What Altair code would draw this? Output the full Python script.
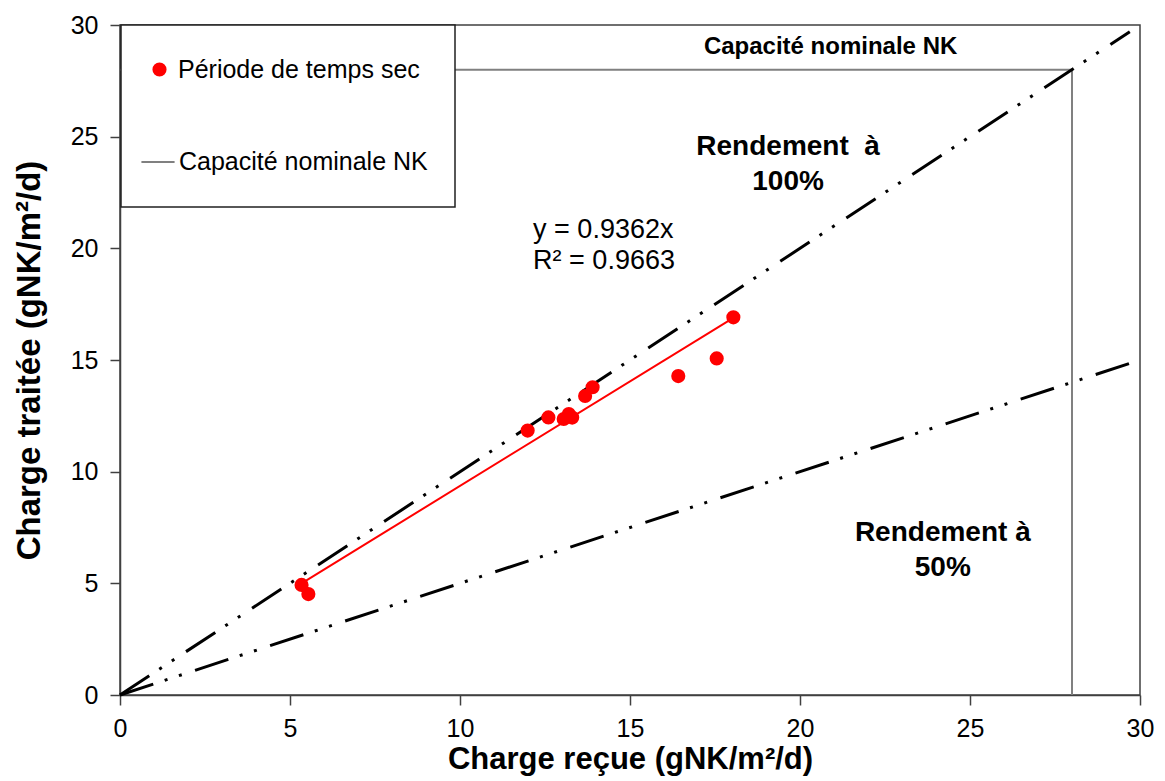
import altair as alt
import pandas as pd

# Measured loads (gNK/m²/d), dry-weather period
charge_recue = [5.34, 5.54, 11.99, 12.60, 13.05, 13.20, 13.30, 13.68, 13.90, 16.42, 17.55, 18.04]
charge_traitee = [4.93, 4.52, 11.84, 12.43, 12.36, 12.58, 12.42, 13.39, 13.78, 14.28, 15.07, 16.91]

# Fit through the origin
pente = 0.9362
r2 = 0.9663

# Nominal NK capacity of the plant
capacite_nk = 28.0
x_fin_diag = 29.7

serie_pts = "Période de temps sec"
serie_cap = "Capacité nominale NK"

pts = pd.DataFrame({"x": charge_recue, "y": charge_traitee, "serie": serie_pts})

x_reg = [min(charge_recue), max(charge_recue)]
reg = pd.DataFrame({"x": x_reg, "y": [pente * v for v in x_reg]})

diag100 = pd.DataFrame({"x": [0, x_fin_diag], "y": [0, x_fin_diag]})
diag50 = pd.DataFrame({"x": [0, x_fin_diag], "y": [0, 0.5 * x_fin_diag]})

cap = pd.DataFrame({
    "x": [0, capacite_nk, capacite_nk],
    "y": [capacite_nk, capacite_nk, 0],
    "o": [0, 1, 2],
    "serie": serie_cap,
})

notes_gras = pd.DataFrame({
    "x": [20.9, 19.65, 19.65, 24.2, 24.2],
    "y": [29.0, 24.55, 22.98, 7.25, 5.7],
    "t": ["Capacité nominale NK", "Rendement\u00a0\u00a0à", "100%", "Rendement à", "50%"],
    "s": [24, 28, 28, 28, 28],
})
notes_eq = pd.DataFrame({
    "x": [12.15, 12.15],
    "y": [20.8, 19.45],
    "t": [f"y = {pente}x", f"R² = {r2}"],
})

xs = alt.Scale(domain=[0, 30], nice=False)
ys = alt.Scale(domain=[0, 30], nice=False)
ticks = list(range(0, 31, 5))

X = alt.X("x:Q", scale=xs, title="Charge reçue (gNK/m²/d)",
          axis=alt.Axis(values=ticks, grid=False))
Y = alt.Y("y:Q", scale=ys, title="Charge traitée (gNK/m²/d)",
          axis=alt.Axis(values=ticks, grid=False))

leg_common = dict(
    title=None, orient="none", padding=0, labelLimit=500,
    labelFont="Liberation Sans", labelFontSize=25, labelColor="black",
)

couleur_pts = alt.Color(
    "serie:N",
    scale=alt.Scale(domain=[serie_pts], range=["#ff0000"]),
    legend=alt.Legend(legendX=27, legendY=32, symbolSize=200, symbolType="circle",
                      symbolOpacity=1, labelOffset=6, **leg_common),
)
trait_cap = alt.Stroke(
    "serie:N",
    scale=alt.Scale(domain=[serie_cap], range=["#808080"]),
    legend=alt.Legend(legendX=20, legendY=119, symbolSize=1100, symbolType="stroke",
                      symbolStrokeWidth=2, labelOffset=3, **leg_common),
)

tiret = [35, 12, 3, 12, 3, 14]

l_cap = alt.Chart(cap).mark_line(strokeWidth=2).encode(x=X, y=Y, order="o:Q", stroke=trait_cap)

cadre = alt.Chart(pd.DataFrame({"k": [0]})).mark_rect(
    fill="white", stroke="#202020", strokeWidth=1.5
).encode(x=alt.value(1), x2=alt.value(335), y=alt.value(0), y2=alt.value(182))

l_100 = alt.Chart(diag100).mark_line(color="black", strokeWidth=3, strokeDash=tiret).encode(x=X, y=Y)
l_50 = alt.Chart(diag50).mark_line(color="black", strokeWidth=3, strokeDash=tiret).encode(x=X, y=Y)
l_reg = alt.Chart(reg).mark_line(color="#ff0000", strokeWidth=2).encode(x=X, y=Y)
p = alt.Chart(pts).mark_circle(size=200, opacity=1).encode(x=X, y=Y, color=couleur_pts)

t_gras = alt.Chart(notes_gras).mark_text(
    font="Liberation Sans", fontWeight="bold", color="black", align="center", baseline="middle"
).encode(x="x:Q", y="y:Q", text="t:N", size=alt.Size("s:Q", scale=None, legend=None))

t_eq = alt.Chart(notes_eq).mark_text(
    font="Liberation Sans", fontSize=27, color="black", align="left", baseline="middle"
).encode(x="x:Q", y="y:Q", text="t:N")

chart = alt.layer(l_cap, cadre, l_100, l_50, l_reg, p, t_gras, t_eq).resolve_scale(
    color="independent", stroke="independent"
).properties(
    width=1020, height=670,
    autosize=alt.AutoSizeParams(type="none"),
    padding={"left": 120, "top": 25, "right": 25, "bottom": 86},
    background="white",
).configure_view(
    stroke="#404040", strokeWidth=1.5
).configure_axis(
    domainColor="#404040", domainWidth=1.5, tickColor="#404040", tickWidth=1.5, tickSize=10,
    labelFont="Liberation Sans", labelColor="black", labelFontSize=25, labelFlush=False,
    titleFont="Liberation Sans", titleFontWeight="bold", titleColor="black",
).configure_axisX(
    labelPadding=11, titlePadding=3, titleFontSize=31,
).configure_axisY(
    labelPadding=12, titlePadding=24, titleFontSize=33,
)

chart.save("out.html", embed_options={"renderer": "svg", "actions": False})
